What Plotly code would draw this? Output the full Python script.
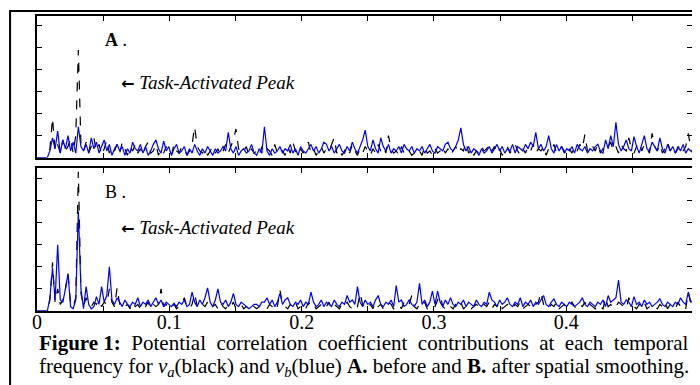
import plotly.graph_objects as go
from plotly.subplots import make_subplots

# frequency bins (cycles/sample), 1/512 spacing
freq = [k / 512 for k in range(256)]

# A. before spatial smoothing
a_black = [
    0, 0, 0, 0, 0, 0.4, 1.8, 0.3, 0.6, 0.2, 0.8, 0.3, 0.5, 0.9, 0.2, 1.0,
    4.9, 0.6, 0.3, 0.7, 0.2, 0.5, 0.9, 0.3, 0.6, 0.1, 0.4, 0.8, 0.2, 0.5, 0.3, 0.6,
    0.2, 0.7, 0.4, 0.1, 0.5, 0.3, 0.6, 0.2, 0.4, 0.1, 0.5, 0.7, 0.2, 0.3, 0.6, 0.1,
    0.4, 0.2, 0.5, 0.3, 0.1, 0.6, 0.3, 0.2, 0.5, 0.4, 0.1, 0.3, 0.6, 1.4, 0.5, 0.3,
    0.2, 0.4, 0.1, 0.3, 0.5, 0.2, 0.4, 0.1, 0.3, 0.6, 0.2, 0.5, 0.8, 1.3, 0.4, 0.2,
    0.3, 0.5, 0.1, 0.4, 0.2, 0.3, 0.1, 0.5, 0.2, 0.4, 0.3, 0.1, 0.6, 0.2, 0.4, 0.3,
    0.1, 0.5, 0.2, 0.7, 0.3, 0.1, 0.4, 0.2, 0.5, 0.7, 0.2, 0.4, 0.1, 0.3, 0.5, 0.2,
    0.4, 0.3, 0.6, 0.9, 0.2, 0.4, 0.1, 0.3, 0.5, 0.2, 0.6, 0.3, 0.1, 0.4, 0.2, 0.5,
    0.3, 0.1, 0.4, 0.2, 0.6, 0.3, 0.5, 0.2, 1.0, 0.4, 0.2, 0.3, 0.1, 0.5, 0.2, 0.4,
    0.3, 0.1, 0.2, 0.4, 0.3, 0.1, 0.5, 0.2, 0.3, 0.1, 0.4, 0.2, 0.3, 0.5, 0.2, 0.4,
    0.1, 0.3, 0.5, 0.2, 0.4, 0.3, 0.7, 0.2, 0.4, 0.1, 0.3, 0.2, 0.5, 0.3, 0.4, 0.6,
    0.3, 0.5, 0.2, 0.4, 0.1, 0.3, 0.5, 0.2, 0.4, 0.6, 0.3, 0.1, 0.4, 0.2, 0.5, 0.3,
    0.6, 0.2, 0.4, 0.3, 0.5, 0.1, 0.4, 0.3, 0.6, 0.2, 0.4, 0.5, 0.3, 0.1, 0.4, 0.2,
    0.5, 0.3, 0.6, 0.4, 1.05, 0.3, 0.2, 0.5, 0.3, 0.6, 0.2, 0.4, 0.3, 0.5, 0.7, 0.3,
    0.5, 0.2, 0.6, 0.4, 0.3, 0.9, 0.4, 0.2, 0.5, 0.7, 0.3, 0.6, 0.4, 0.2, 1.1, 0.5,
    0.3, 0.6, 0.2, 0.4, 0.7, 0.3, 0.5, 0.2, 0.4, 0.6, 0.3, 0.5, 1.1, 0.4, 0.2, 0.3,
]
a_blue = [
    0, 0, 0, 0, 0, 0.3, 0.9, 0.4, 1.2, 0.2, 0.8, 0.4, 1.0, 0.3, 0.7, 0.2,
    1.4, 0.5, 0.3, 0.6, 0.2, 0.9, 0.4, 0.7, 0.2, 0.5, 0.8, 0.3, 0.6, 0.1, 0.4, 0.6,
    0.3, 0.5, 0.1, 0.4, 0.2, 0.7, 0.4, 0.3, 0.6, 0.2, 0.5, 0.1, 0.3, 0.6, 0.8, 0.4,
    0.2, 0.75, 0.3, 0.5, 0.1, 0.4, 0.6, 0.2, 0.3, 0.5, 0.1, 0.4, 0.2, 0.6, 0.3, 0.1,
    0.4, 0.2, 0.5, 0.3, 0.1, 0.4, 0.2, 0.3, 0.5, 0.3, 1.15, 0.4, 0.2, 0.5, 0.1, 0.3,
    0.4, 0.2, 0.3, 0.6, 0.2, 0.1, 0.4, 0.2, 1.4, 0.3, 0.1, 0.4, 0.2, 0.3, 0.5, 0.2,
    0.4, 0.3, 0.6, 0.2, 0.4, 0.1, 0.5, 0.3, 0.2, 0.4, 0.6, 0.3, 0.5, 0.2, 0.4, 0.7,
    0.6, 0.3, 0.5, 0.2, 0.4, 0.6, 0.3, 0.2, 0.5, 0.3, 0.7, 0.4, 0.2, 0.5, 0.8, 1.25,
    0.5, 0.3, 0.8, 0.4, 0.2, 0.9, 0.5, 0.3, 0.6, 0.2, 0.4, 0.3, 0.5, 0.2, 0.6, 0.4,
    0.3, 0.5, 0.2, 0.4, 0.3, 0.5, 0.2, 0.4, 0.6, 0.3, 0.2, 0.5, 0.4, 0.3, 0.6, 0.7,
    0.4, 0.3, 0.5, 0.8, 1.35, 0.6, 0.3, 0.5, 0.2, 0.4, 0.3, 0.1, 0.4, 0.2, 0.3, 0.5,
    0.2, 0.4, 0.6, 0.3, 0.5, 0.2, 0.4, 0.3, 0.6, 0.2, 0.5, 0.4, 0.3, 0.6, 0.4, 0.7,
    0.5, 1.15, 0.4, 0.6, 0.3, 0.5, 1.0, 0.4, 0.2, 0.6, 0.3, 0.5, 0.2, 0.4, 0.3, 0.5,
    0.2, 0.6, 0.4, 0.3, 0.5, 0.2, 0.4, 0.3, 0.5, 0.6, 0.3, 0.2, 0.8, 0.4, 1.0, 0.5,
    1.6, 0.6, 0.3, 0.5, 0.8, 0.4, 0.3, 0.95, 0.5, 0.2, 0.6, 1.0, 0.4, 0.3, 0.7, 0.5,
    0.3, 0.9, 0.4, 0.2, 0.6, 0.3, 0.5, 0.2, 0.5, 0.3, 0.6, 0.2, 0.4, 0.3, 0.2, 0.1,
]

# B. after spatial smoothing
b_black = [
    0, 0, 0, 0, 0, 0.5, 2.2, 0.4, 1.0, 0.3, 0.5, 1.0, 1.7, 0.3, 0.2, 0.6,
    6.3, 0.8, 0.2, 0.6, 0.3, 0.2, 0.4, 0.3, 0.5, 0.2, 0.4, 0.3, 1.0, 0.4, 0.2, 1.05,
    0.3, 0.4, 0.2, 0.3, 0.1, 0.4, 0.2, 0.3, 0.1, 0.3, 0.2, 0.4, 0.1, 0.3, 0.2, 0.3,
    1.0, 0.2, 0.3, 0.1, 0.2, 0.3, 0.1, 0.2, 0.3, 0.6, 0.2, 0.1, 0.3, 0.8, 0.2, 0.1,
    0.3, 0.2, 0.4, 0.1, 0.2, 0.3, 0.1, 0.4, 0.2, 0.1, 0.3, 0.2, 0.4, 0.1, 0.2, 0.3,
    0.1, 0.2, 0.1, 0.3, 0.2, 0.1, 0.2, 0.3, 0.2, 0.1, 0.3, 0.2, 0.4, 0.2, 0.95, 0.3,
    0.2, 0.1, 0.3, 0.2, 0.4, 0.1, 0.2, 0.3, 0.1, 0.4, 0.2, 0.3, 0.1, 0.2, 0.3, 0.1,
    0.2, 0.4, 0.1, 0.3, 0.2, 0.1, 0.3, 0.2, 0.4, 0.2, 0.1, 0.3, 0.2, 0.8, 0.3, 0.1,
    0.2, 0.3, 0.1, 0.4, 0.2, 0.3, 0.1, 0.2, 0.4, 0.3, 0.1, 0.2, 0.3, 0.1, 0.4, 0.2,
    0.3, 0.7, 0.2, 0.1, 0.3, 0.2, 0.4, 0.1, 0.2, 0.3, 0.2, 0.5, 0.7, 0.2, 0.1, 0.3,
    0.2, 0.1, 0.3, 0.2, 0.4, 0.1, 0.2, 0.3, 0.1, 0.2, 0.3, 0.2, 0.1, 0.3, 0.2, 0.4,
    0.1, 0.3, 0.2, 0.4, 0.1, 0.2, 0.3, 0.2, 0.1, 0.3, 0.2, 0.4, 0.1, 0.2, 0.3, 0.2,
    0.1, 0.3, 0.4, 0.85, 0.3, 0.2, 0.1, 0.3, 0.2, 0.4, 0.1, 0.2, 0.3, 0.1, 0.2, 0.4,
    0.2, 0.1, 0.3, 0.2, 0.4, 0.1, 0.3, 0.2, 0.1, 0.3, 0.2, 0.1, 0.6, 0.2, 0.3, 0.1,
    0.2, 0.4, 0.3, 0.2, 0.1, 0.6, 0.3, 0.2, 0.1, 0.3, 0.2, 0.4, 0.1, 0.2, 0.3, 0.2,
    0.1, 0.3, 0.2, 0.4, 0.1, 0.3, 0.2, 0.1, 0.4, 0.2, 0.3, 0.1, 0.85, 0.3, 0.2, 0.1,
]
b_blue = [
    0, 0, 0, 0, 0, 0.6, 1.95, 0.5, 3.0, 0.5, 0.4, 1.0, 1.7, 0.2, 0.1, 0.5,
    4.5, 1.0, 0.1, 1.1, 0.3, 0.1, 0.2, 0.65, 0.3, 1.1, 0.4, 0.7, 2.0, 0.5, 0.3, 0.6,
    0.4, 0.2, 0.5, 0.3, 0.2, 0.4, 0.3, 0.6, 0.2, 0.4, 0.3, 0.5, 0.2, 0.4, 0.6, 0.3,
    0.5, 0.2, 0.4, 0.3, 0.2, 0.35, 0.2, 0.4, 0.3, 0.5, 0.2, 0.3, 0.85, 0.4, 0.2, 0.5,
    0.3, 0.6, 1.05, 0.4, 0.2, 0.5, 1.0, 0.4, 0.3, 0.5, 0.2, 0.4, 0.8, 0.3, 0.2, 0.4,
    0.3, 0.2, 0.1, 0.2, 0.3, 0.3, 0.2, 0.4, 0.4, 0.6, 0.3, 0.5, 0.2, 0.4, 0.8, 0.3,
    0.5, 0.6, 0.3, 0.2, 0.4, 0.3, 0.5, 0.2, 0.4, 0.3, 0.85, 0.4, 0.2, 0.3, 0.5, 0.2,
    0.4, 0.3, 0.2, 0.5, 0.3, 0.2, 0.4, 0.3, 0.7, 0.4, 0.5, 0.3, 1.1, 0.4, 0.2, 0.5,
    0.3, 0.4, 0.2, 0.5, 0.7, 0.3, 0.2, 0.4, 0.3, 0.5, 0.2, 1.15, 0.4, 0.5, 0.2, 0.3,
    0.5, 0.3, 0.2, 0.4, 1.25, 0.3, 0.5, 0.2, 0.4, 0.9, 0.3, 0.9, 0.4, 0.2, 0.5, 0.3,
    0.6, 0.3, 0.2, 0.4, 0.3, 0.5, 0.2, 0.4, 0.3, 0.2, 0.5, 0.3, 0.2, 0.4, 0.3, 0.85,
    0.5, 0.4, 0.2, 0.5, 0.3, 0.4, 0.6, 0.3, 0.2, 0.4, 0.3, 0.6, 0.2, 0.4, 0.3, 0.5,
    0.2, 0.4, 0.3, 0.5, 0.7, 0.3, 0.2, 0.4, 0.55, 0.3, 0.2, 0.4, 0.3, 0.2, 0.4, 0.3,
    0.2, 0.3, 0.4, 0.6, 0.3, 0.2, 0.4, 0.3, 0.2, 0.4, 0.3, 0.5, 0.2, 0.7, 0.4, 0.5,
    0.6, 1.4, 0.4, 0.3, 0.5, 0.4, 0.2, 0.65, 0.3, 0.4, 0.2, 0.5, 0.3, 0.4, 0.2, 0.3,
    0.4, 0.55, 0.3, 0.2, 0.4, 0.3, 0.2, 0.4, 0.3, 0.6, 0.4, 0.3, 0.85, 0.4, 0.5, 0.4,
]

x_tickvals = [0, 0.05, 0.1, 0.15, 0.2, 0.25, 0.3, 0.35, 0.4, 0.45]
x_ticktext = ["0", "", "0.1", "", "0.2", "", "0.3", "", "0.4", ""]
y_tickvals = [0, 1, 2, 3, 4, 5, 6]

SERIF = "'Liberation Serif', 'Times New Roman', serif"

# page body has an 8px margin; lay out in window pixels, then shift
OFF = 8
W, H = 700 - OFF, 385 - OFF
PL, PR, PT, PB = 37, 694, 15, 311      # plot area in window pixels
L, R, T, B = PL - OFF, W - (PR - OFF), PT - OFF, H - (PB - OFF)
ph = PB - PT
pw = PR - PL


def py(win_y):
    return (PB - win_y) / ph


def px(win_x):
    return (win_x - PL) / pw


fig = make_subplots(rows=2, cols=1, shared_xaxes=False)

fig.add_trace(go.Scatter(x=freq, y=a_black, mode="lines",
                         line=dict(color="black", width=1.2, dash="dash")), row=1, col=1)
fig.add_trace(go.Scatter(x=freq, y=a_blue, mode="lines",
                         line=dict(color="#0000ff", width=1.2)), row=1, col=1)
fig.add_trace(go.Scatter(x=freq, y=b_black, mode="lines",
                         line=dict(color="black", width=1.2, dash="dash")), row=2, col=1)
fig.add_trace(go.Scatter(x=freq, y=b_blue, mode="lines",
                         line=dict(color="#0000ff", width=1.2)), row=2, col=1)

xcommon = dict(range=[0, 0.495], tickvals=x_tickvals, ticks="inside", ticklen=5,
               tickwidth=1, tickcolor="black", showline=True, linecolor="black",
               linewidth=1.5, mirror="ticks", showgrid=False, zeroline=False,
               tickfont=dict(family=SERIF, size=20, color="black"))
ycommon = dict(range=[0, 6.45], tickvals=y_tickvals, ticks="inside", ticklen=5,
               tickwidth=1, tickcolor="black", showline=True, linecolor="black",
               linewidth=1.5, mirror="ticks", showgrid=False, zeroline=False,
               showticklabels=False)

fig.update_xaxes(**xcommon)
fig.update_yaxes(**ycommon)
fig.update_layout(
    xaxis=dict(domain=[0, 1], showticklabels=False),
    xaxis2=dict(domain=[0, 1], ticktext=x_ticktext, showticklabels=True,
                ticklabelstandoff=-8),
    yaxis=dict(domain=[py(157), 1]),
    yaxis2=dict(domain=[0, py(168)]),
)

ARROW = "<span style=\"font-family:'DejaVu Sans';font-weight:bold;font-size:16px\">\u2190</span>"

ann = []
ann.append(dict(xref="x", yref="y", x=0.0497, y=5.35, text="<b>A</b> .", showarrow=False,
                xanchor="left", font=dict(family=SERIF, size=18, color="black")))
ann.append(dict(xref="x2", yref="y2", x=0.0497, y=5.4, text="B .", showarrow=False,
                xanchor="left", font=dict(family=SERIF, size=18, color="black")))
for xr, yr, yy in (("x", "y", 3.4), ("x2", "y2", 3.8)):
    ann.append(dict(xref=xr, yref=yr, x=0.0622, y=yy,
                    text=ARROW + " <i>Task-Activated Peak</i>", showarrow=False,
                    xanchor="left", font=dict(family=SERIF, size=19, color="black")))

ann.append(dict(xref="paper", yref="paper", x=0, y=py(343),
                text="<b>Figure 1:</b>  Potential  correlation  coefficient  contributions  at  each  temporal",
                showarrow=False, xanchor="left", yanchor="middle",
                font=dict(family=SERIF, size=21, color="black")))
ann.append(dict(xref="paper", yref="paper", x=0, y=py(367),
                text="frequency for <i>v<sub>a</sub></i>(black) and <i>v<sub>b</sub></i>(blue) <b>A.</b> before and <b>B.</b> after spatial smoothing.",
                showarrow=False, xanchor="left", yanchor="middle",
                font=dict(family=SERIF, size=21, color="black")))

# outer frame (left and top rule of the figure box)
fx = px(10)
fy = py(10)
shapes = [dict(type="path", xref="paper", yref="paper",
               path=f"M {fx} {py(420)} L {fx} {fy} L 1.2 {fy}",
               line=dict(color="black", width=2))]

fig.update_layout(
    width=W, height=H, margin=dict(l=L, r=R, t=T, b=B, pad=0),
    paper_bgcolor="white", plot_bgcolor="white", showlegend=False,
    annotations=ann, shapes=shapes,
)

fig.write_html("out.html")
